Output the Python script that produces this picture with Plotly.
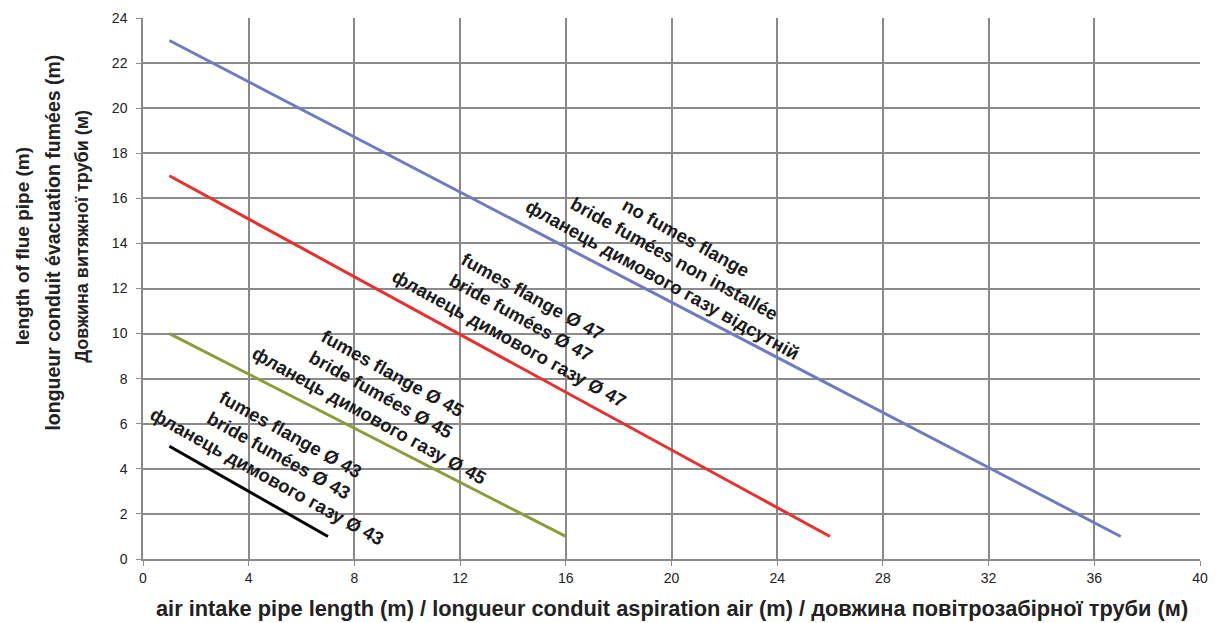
import plotly.graph_objects as go

# Data
air_len_none = [1, 37]
flue_len_none = [23, 1]
air_len_47 = [1, 26]
flue_len_47 = [17, 1]
air_len_45 = [1, 16]
flue_len_45 = [10, 1]
air_len_43 = [1, 7]
flue_len_43 = [5, 1]

labels = [
    "no fumes flange<br>bride fumées non installée<br>фланець димового газу відсутній",
    "fumes flange Ø 47<br>bride fumées Ø 47<br>фланець димового газу Ø 47",
    "fumes flange Ø 45<br>bride fumées Ø 45<br>фланець димового газу Ø 45",
    "fumes flange Ø 43<br>bride fumées Ø 43<br>фланець димового газу Ø 43",
]
label_x = [20.1, 14.3, 9.0, 5.15]
label_y = [13.35, 10.7, 7.3, 4.6]

x_ticks = [0, 4, 8, 12, 16, 20, 24, 28, 32, 36, 40]
y_ticks = [0, 2, 4, 6, 8, 10, 12, 14, 16, 18, 20, 22, 24]

fig = go.Figure()
series = [
    (air_len_none, flue_len_none, "#6e7bc1"),
    (air_len_47, flue_len_47, "#e8302e"),
    (air_len_45, flue_len_45, "#8f9a3a"),
    (air_len_43, flue_len_43, "#000000"),
]
for xs, ys, c in series:
    fig.add_trace(go.Scatter(x=xs, y=ys, mode="lines", line=dict(color=c, width=3), showlegend=False))

for t, x, y in zip(labels, label_x, label_y):
    fig.add_annotation(x=x, y=y, text="<b>" + t.replace("<br>", "</b><br><b>") + "</b>",
                       showarrow=False, textangle=29,
                       xanchor="center", yanchor="middle",
                       font=dict(family="Liberation Sans", size=18.5, color="#1a1a1a"),
                       xref="x", yref="y")

grid = "#8a8a8a"
tickfont = dict(family="Liberation Sans", size=14, color="#222")
fig.update_xaxes(range=[0, 40], tickvals=x_ticks, showgrid=True, gridcolor=grid, gridwidth=1.5,
                 showline=True, linecolor=grid, linewidth=1.5, ticks="outside", ticklen=5,
                 tickcolor=grid, tickfont=tickfont, zeroline=False, automargin=False)
fig.update_yaxes(range=[0, 24], tickvals=y_ticks, showgrid=True, gridcolor=grid, gridwidth=1.5,
                 showline=True, linecolor=grid, linewidth=1.5, ticks="outside", ticklen=5,
                 tickcolor=grid, tickfont=tickfont, zeroline=False, automargin=False,
                 ticklabelstandoff=6)

# X-axis title
fig.add_annotation(x=0.5, y=-0.092, xref="paper", yref="paper", xanchor="center", yanchor="middle",
                   text="<b>air intake pipe length (m) / longueur conduit aspiration air (m) / довжина повітрозабірної труби (м)</b>",
                   showarrow=False, font=dict(family="Liberation Sans", size=21.8, color="#222"))

# Y-axis title lines
ytitles = [
    ("<b>length of flue pipe (m)</b>", 19, -0.114, 0.577),
    ("<b>longueur conduit évacuation fumées (m)</b>", 19.5, -0.086, 0.585),
    ("<b>Довжина витяжної труби (м)</b>", 18, -0.058, 0.597),
]
for t, s, xp, yp in ytitles:
    fig.add_annotation(x=xp, y=yp, xref="paper", yref="paper", text=t, showarrow=False,
                       xanchor="center", yanchor="middle", borderpad=0,
                       textangle=-90, font=dict(family="Liberation Sans", size=s, color="#222"))

fig.update_layout(
    width=1221, height=623,
    margin=dict(l=135, r=29, t=10, b=72),
    plot_bgcolor="white", paper_bgcolor="white",
)
fig.write_html("out.html")
